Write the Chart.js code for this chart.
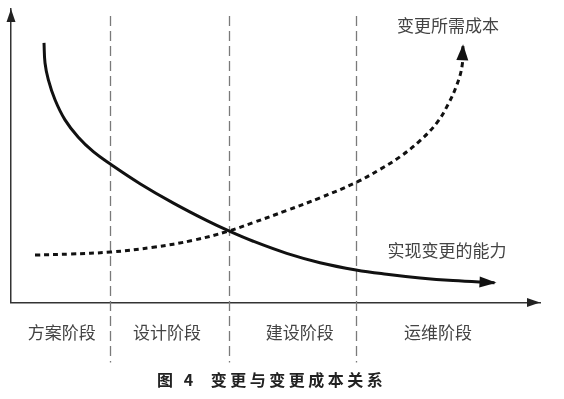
<!DOCTYPE html>
<html>
<head>
<meta charset="utf-8">
<script src="https://cdn.jsdelivr.net/npm/chart.js@4/dist/chart.umd.min.js"></script>
<style>
  html, body { margin: 0; padding: 0; background: #fff; }
  .wrap { position: relative; width: 564px; height: 399px; }
  #chart { position: absolute; left: 0; top: 0; }
  .caption {
    position: absolute; left: 157px; top: 369px;
    font: bold 16px "Noto Sans CJK SC", sans-serif;
    letter-spacing: 3.5px; line-height: 20px; color: #222; white-space: pre;
  }
</style>
</head>
<body>
<div class="wrap">
  <canvas id="chart" width="564" height="399"></canvas>
  <div class="caption">图 4  变更与变更成本关系</div>
</div>
<script>
// project stages along the time axis (0-100)
const stageNames = ["方案阶段", "设计阶段", "建设阶段", "运维阶段"];
const stageCenters = [9.6, 29.5, 54.6, 80.7];
const stageBounds = [18.7, 41.2, 65.2];

// ability to make a change (solid, falling)
const abilityX = [6.24, 6.43, 7.05, 8.32, 10.21, 12.72, 15.56, 18.90, 24.39, 30.62, 37.05, 41.08, 45.80, 52.12, 58.41, 65.22, 71.02, 77.32, 83.55, 91.4];
const abilityY = [88.46, 81.61, 75.96, 69.08, 62.23, 56.30, 51.40, 47.05, 40.51, 33.97, 27.91, 24.49, 20.89, 16.78, 13.60, 11.13, 9.66, 8.39, 7.50, 6.78];

// cost needed for a change (dotted, rising)
const costX = [4.54, 11.15, 18.85, 26.90, 34.46, 41.08, 45.75, 52.17, 58.41, 65.22, 69.75, 73.53, 77.32, 80.53, 82.61, 84.31, 85.26, 85.44];
const costY = [16.20, 16.54, 17.23, 18.84, 21.23, 24.32, 27.23, 31.40, 35.68, 40.92, 45.38, 49.66, 55.14, 61.30, 67.47, 74.32, 80.48, 87.33];

const seriesLabels = ["实现变更的能力", "变更所需成本"];

const FONT = '"Noto Sans CJK SC", sans-serif';

function toPoints(xs, ys) {
  return xs.map((x, i) => ({ x: x, y: ys[i] }));
}

function arrowHead(ctx, x, y, angle, len, half) {
  ctx.save();
  ctx.translate(x, y);
  ctx.rotate(angle);
  ctx.beginPath();
  ctx.moveTo(0, 0);
  ctx.lineTo(-len, -half);
  ctx.lineTo(-len, half);
  ctx.closePath();
  ctx.fill();
  ctx.restore();
}

const decor = {
  id: "decor",
  beforeDatasetsDraw(chart) {
    const { ctx, chartArea, scales } = chart;
    // dashed stage boundaries
    ctx.save();
    ctx.strokeStyle = "#7a7a7a";
    ctx.lineWidth = 1.3;
    ctx.setLineDash([10, 5]);
    stageBounds.forEach(b => {
      const px = Math.round(scales.x.getPixelForValue(b)) + 0.5;
      ctx.beginPath();
      ctx.moveTo(px, chartArea.top + 7);
      ctx.lineTo(px, chartArea.bottom + 60);
      ctx.stroke();
    });
    ctx.restore();
  },
  afterDatasetsDraw(chart) {
    const { ctx, chartArea, scales } = chart;
    ctx.save();
    ctx.fillStyle = "#222";
    // axis arrows
    arrowHead(ctx, chartArea.left, chartArea.top, -Math.PI / 2, 13, 4.5);
    arrowHead(ctx, chartArea.right, chartArea.bottom, 0, 13, 4.5);
    // curve arrows
    ctx.fillStyle = "#111";
    chart.data.datasets.forEach((ds, i) => {
      const pts = chart.getDatasetMeta(i).data;
      const a = pts[pts.length - 2], b = pts[pts.length - 1];
      const ang = Math.atan2(b.y - a.y, b.x - a.x);
      arrowHead(ctx, b.x + Math.cos(ang) * 2, b.y + Math.sin(ang) * 2, ang, i === 0 ? 17 : 16, i === 0 ? 5.5 : 6);
    });
    // curve labels
    ctx.fillStyle = "#444";
    ctx.font = "17px " + FONT;
    ctx.textAlign = "center";
    ctx.textBaseline = "middle";
    ctx.fillText(seriesLabels[0], scales.x.getPixelForValue(82.4), scales.y.getPixelForValue(17.8));
    ctx.fillText(seriesLabels[1], scales.x.getPixelForValue(82.6), scales.y.getPixelForValue(94.2));
    ctx.restore();
  }
};

new Chart(document.getElementById("chart"), {
  type: "scatter",
  data: {
    datasets: [
      {
        label: seriesLabels[0],
        data: toPoints(abilityX, abilityY),
        showLine: true,
        borderColor: "#111",
        borderWidth: 3,
        pointRadius: 0,
        tension: 0.4
      },
      {
        label: seriesLabels[1],
        data: toPoints(costX, costY),
        showLine: true,
        borderColor: "#111",
        borderWidth: 3,
        borderDash: [5, 4],
        pointRadius: 0,
        tension: 0.4
      }
    ]
  },
  options: {
    responsive: false,
    animation: false,
    layout: { padding: { left: 11, right: 24, top: 9, bottom: 36 } },
    plugins: {
      legend: { display: false },
      tooltip: { enabled: false }
    },
    scales: {
      x: {
        type: "linear",
        min: 0,
        max: 100,
        grid: { display: false, drawTicks: false },
        border: { display: true, color: "#333", width: 1.5 },
        afterBuildTicks: scale => {
          scale.ticks = stageCenters.map(v => ({ value: v }));
        },
        ticks: {
          autoSkip: false,
          maxRotation: 0,
          padding: 20,
          color: "#444",
          font: { family: FONT, size: 17 },
          callback: (value, index) => stageNames[index]
        }
      },
      y: {
        type: "linear",
        min: 0,
        max: 100,
        grid: { display: false, drawTicks: false },
        border: { display: true, color: "#333", width: 1.5 },
        ticks: { display: false }
      }
    }
  },
  plugins: [decor]
});
</script>
</body>
</html>
